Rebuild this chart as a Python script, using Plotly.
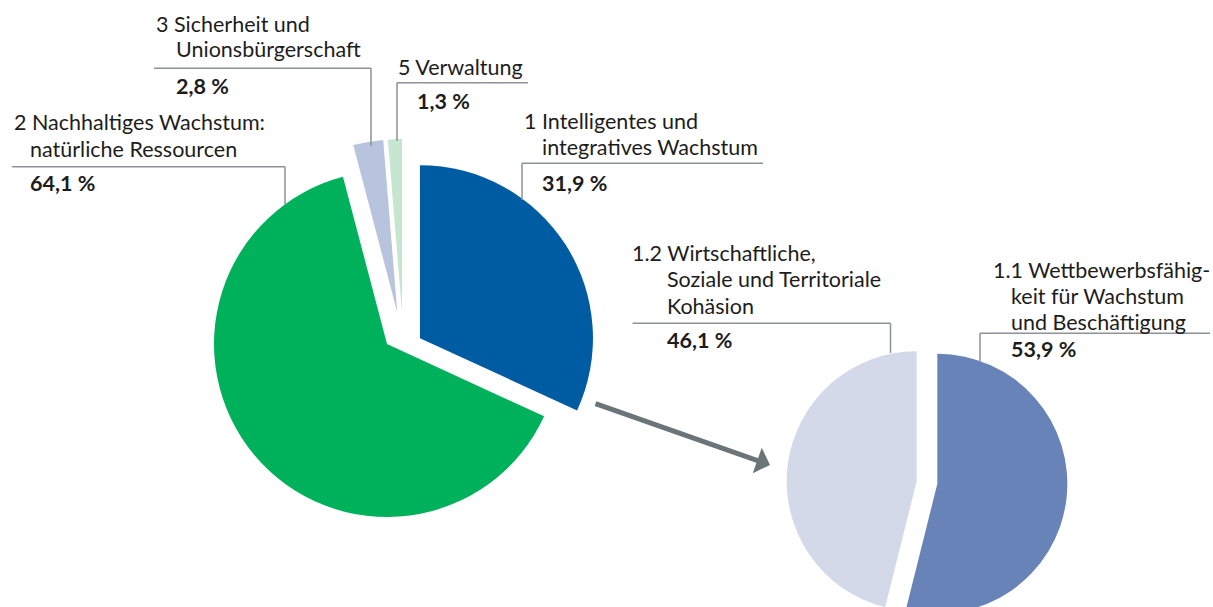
import plotly.graph_objects as go

# ---------------- data ----------------
main_labels = [
    "1 Intelligentes und integratives Wachstum",
    "2 Nachhaltiges Wachstum: natürliche Ressourcen",
    "3 Sicherheit und Unionsbürgerschaft",
    "5 Verwaltung",
]
main_values = [31.9, 64.1, 2.8, 1.3]

sub_labels = [
    "1.1 Wettbewerbsfähigkeit für Wachstum und Beschäftigung",
    "1.2 Wirtschaftliche, Soziale und Territoriale Kohäsion",
]
sub_values = [53.9, 46.1]

# label text lines (as printed in the chart)
main_label_lines = [
    ["1 Intelligentes und", "integratives Wachstum"],
    ["2 Nachhaltiges Wachstum:", "natürliche Ressourcen"],
    ["3 Sicherheit und", "Unionsbürgerschaft"],
    ["5 Verwaltung"],
]
sub_label_lines = [
    ["1.1 Wettbewerbsfähig-", "keit für Wachstum", "und Beschäftigung"],
    ["1.2 Wirtschaftliche,", "Soziale und Territoriale", "Kohäsion"],
]

# ---------------- styling ----------------
W, H = 1213, 630
FONT = "Lato"
FS = 21.5
TXT = "#1d1d1b"
LINE = "#8d9297"
NONE = "rgba(0,0,0,0)"
main_colors = ["#005ca2", "#00b15b", "#b8c3de", "#c6e6d0"]
sub_colors = ["#6783b8", "#d3d9e9"]
sub_pull = [0.08, 0.08]


def X(px):
    return px / W


def Y(py):
    return 1 - py / H


def pct(v):
    return f"{v:.1f}".replace(".", ",") + " %"


fig = go.Figure()

# main pie, exploded: slices 1, 3, 5 pulled from centre (403.5, 348.7), r = 173 px
R = 173
pullA = [0.113, 0.0, 0.213, 0.212]
ca = (403.5, 348.7)
sa = R * (1 + max(pullA))
fig.add_trace(go.Pie(
    labels=main_labels, values=main_values, sort=False, direction="clockwise",
    rotation=0, pull=pullA, textinfo="none", hoverinfo="label+percent",
    marker=dict(colors=[main_colors[0], NONE, main_colors[2], main_colors[3]],
                line=dict(width=0)),
    domain=dict(x=[X(ca[0] - sa), X(ca[0] + sa)], y=[Y(ca[1] + sa), Y(ca[1] - sa)]),
    showlegend=False,
))
# slice 2 of the same pie, centred at (387, 344)
cb = (387, 344)
fig.add_trace(go.Pie(
    labels=main_labels, values=main_values, sort=False, direction="clockwise",
    rotation=0, textinfo="none", hoverinfo="label+percent",
    marker=dict(colors=[NONE, main_colors[1], NONE, NONE], line=dict(width=0)),
    domain=dict(x=[X(cb[0] - R), X(cb[0] + R)], y=[Y(cb[1] + R), Y(cb[1] - R)]),
    showlegend=False,
))

# detail pie: centre (927, 482.5), radius 130 px
sc, sr = (927, 482.5), 130
ss = sr * (1 + max(sub_pull))
fig.add_trace(go.Pie(
    labels=sub_labels, values=sub_values, sort=False, direction="clockwise",
    rotation=0, pull=sub_pull, textinfo="none", hoverinfo="label+percent",
    marker=dict(colors=sub_colors, line=dict(width=0)),
    domain=dict(x=[X(sc[0] - ss), X(sc[0] + ss)], y=[max(0, Y(sc[1] + ss)), Y(sc[1] - ss)]),
    showlegend=False,
))

# label layout: (first-line x, indent x, first-line y, line step, rule y, rule x0, rule x1, drop x, drop y end, value y)
main_pos = [
    (521.5, 539.5, 121.0, 25.5, 163.3, 522, 763, 522, 200, 182.5),
    (11.5, 28.3, 122.5, 26.5, 166.7, 12, 285, 285, 205, 183.0),
    (153.8, 173.6, 24.0, 25.5, 68.3, 154, 371, 371, 146, 86.0),
    (395.8, 414.9, 67.5, 26.0, 82.7, 397, 528, 397, 141, 101.5),
]
sub_pos = [
    (990.7, 1009.0, 270.0, 26.0, 333.3, 980, 1210, 980, 362, 349.0),
    (629.6, 664.8, 252.5, 26.7, 323.3, 632.6, 890.5, 890.5, 353, 340.0),
]

annotations = []
shapes = []


def add_label(lines, value, pos):
    x0, xi, y0, step, ry, rx0, rx1, dx, dy, vy = pos
    for i, t in enumerate(lines):
        annotations.append(dict(
            x=X(x0 if i == 0 else xi), y=Y(y0 + i * step), xref="paper", yref="paper",
            text=t, showarrow=False, xanchor="left", yanchor="middle",
            font=dict(family=FONT, size=FS, color=TXT),
        ))
    annotations.append(dict(
        x=X(xi), y=Y(vy), xref="paper", yref="paper", text=f"<b>{pct(value)}</b>",
        showarrow=False, xanchor="left", yanchor="middle",
        font=dict(family=FONT, size=FS, color=TXT),
    ))
    shapes.append(dict(type="line", xref="paper", yref="paper",
                       x0=X(rx0), x1=X(rx1), y0=Y(ry), y1=Y(ry),
                       line=dict(color=LINE, width=1.5)))
    shapes.append(dict(type="line", xref="paper", yref="paper",
                       x0=X(dx), x1=X(dx), y0=Y(ry), y1=Y(dy),
                       line=dict(color=LINE, width=1.5)))


for lines, v, p in zip(main_label_lines, main_values, main_pos):
    add_label(lines, v, p)
for lines, v, p in zip(sub_label_lines, sub_values, sub_pos):
    add_label(lines, v, p)

# arrow from the main pie to the detail pie
annotations.append(dict(
    x=X(770), y=Y(465), xref="paper", yref="paper", ax=-176, ay=-62,
    text="", showarrow=True, arrowhead=1, arrowwidth=5, arrowsize=0.9,
    arrowcolor="#6b7478", standoff=0,
))

fig.update_layout(
    width=W, height=H, margin=dict(l=0, r=0, t=0, b=0),
    paper_bgcolor="white", plot_bgcolor="white",
    annotations=annotations, shapes=shapes,
    font=dict(family=FONT, color=TXT),
)

fig.write_html(
    "out.html",
    config={"displayModeBar": False},
    post_script="document.body.style.margin='0';document.body.style.overflow='hidden';",
)
